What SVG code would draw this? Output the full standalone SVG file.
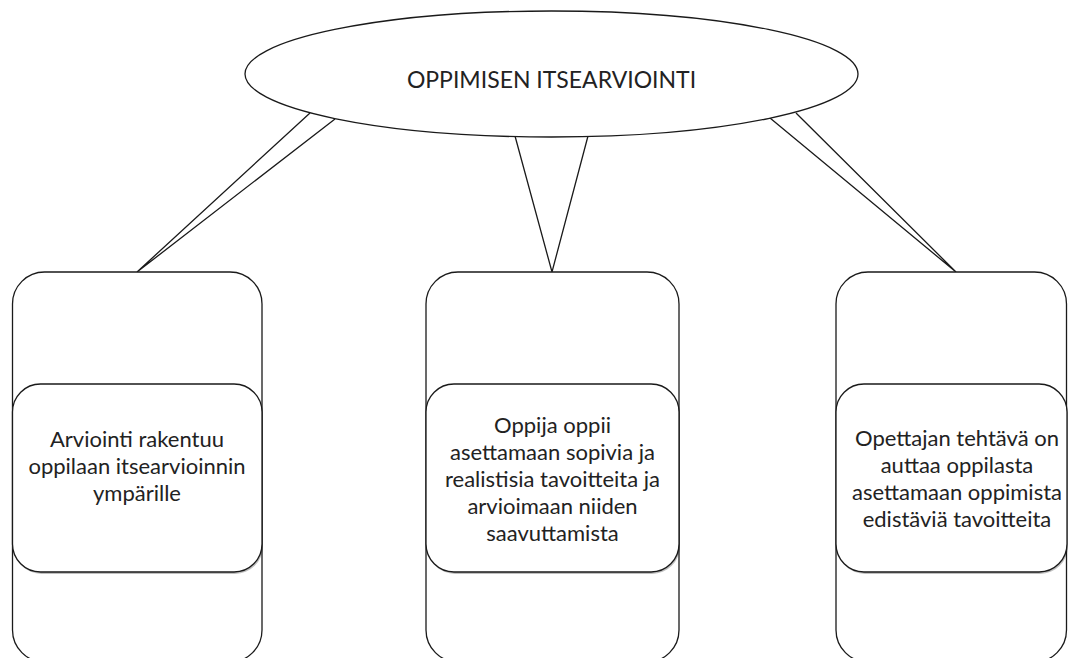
<svg xmlns="http://www.w3.org/2000/svg" width="1068" height="658" viewBox="0 0 1068 658">
<style>
.shape{fill:#fff;stroke:#1a1a1a;stroke-width:1.3}
.shadow{fill:#000;opacity:0.25}
.conn{fill:#fff;stroke:#1a1a1a;stroke-width:1.3;stroke-linejoin:miter}
.t{font-family:Lato,"Open Sans","Liberation Sans",sans-serif;font-size:22px;fill:#222;text-anchor:middle}
.title{font-family:Lato,"Open Sans","Liberation Sans",sans-serif;font-size:23px;fill:#222;text-anchor:middle}
</style>
<rect width="1068" height="658" fill="#fff"/>
<g id="connectors">
<path class="conn" d="M310 113 L137 272 L335 119"/>
<path class="conn" d="M515 136 L552 272 L588 136"/>
<path class="conn" d="M770 118 L956 272 L796 113"/>
</g>
<g id="node-title">
<ellipse class="shape" cx="551.5" cy="74" rx="306.5" ry="63"/>
<text class="title" x="551.5" y="88">OPPIMISEN ITSEARVIOINTI</text>
</g>
<g id="node-left">
<rect class="shape" x="12.5" y="272" width="249.5" height="390" rx="32" ry="32"/>
<rect class="shadow" x="13.5" y="386" width="249.5" height="188" rx="28" ry="28"/>
<rect class="shape" x="12.5" y="384" width="249.5" height="188" rx="28" ry="28"/>
<text class="t" x="137" y="447">Arviointi rakentuu</text>
<text class="t" x="137" y="474">oppilaan itsearvioinnin</text>
<text class="t" x="137" y="501">ympärille</text>
</g>
<g id="node-center">
<rect class="shape" x="426" y="272" width="253" height="390" rx="32" ry="32"/>
<rect class="shadow" x="427" y="386" width="253" height="188" rx="28" ry="28"/>
<rect class="shape" x="426" y="384" width="253" height="188" rx="28" ry="28"/>
<text class="t" x="552.5" y="433">Oppija oppii</text>
<text class="t" x="552.5" y="460">asettamaan sopivia ja</text>
<text class="t" x="552.5" y="487">realistisia tavoitteita ja</text>
<text class="t" x="552.5" y="514">arvioimaan niiden</text>
<text class="t" x="552.5" y="541">saavuttamista</text>
</g>
<g id="node-right">
<rect class="shape" x="836" y="272" width="230.5" height="390" rx="32" ry="32"/>
<rect class="shadow" x="837" y="386" width="231" height="188" rx="28" ry="28"/>
<rect class="shape" x="836" y="384" width="231" height="188" rx="28" ry="28"/>
<text class="t" x="957" y="446">Opettajan tehtävä on</text>
<text class="t" x="957" y="473">auttaa oppilasta</text>
<text class="t" x="957" y="500">asettamaan oppimista</text>
<text class="t" x="957" y="527">edistäviä tavoitteita</text>
</g>
</svg>
